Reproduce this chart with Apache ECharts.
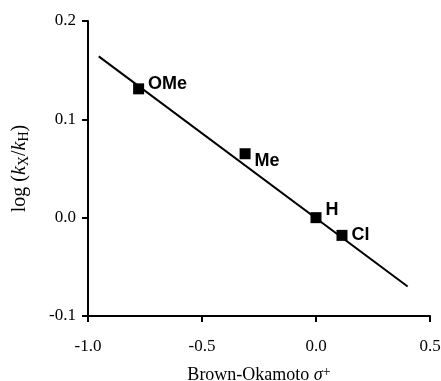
<!DOCTYPE html>
<html>
<head>
<meta charset="utf-8">
<script src="https://cdn.jsdelivr.net/npm/echarts@6/dist/echarts.min.js"></script>
<style>
  html, body { margin: 0; padding: 0; background: #fff; }
  #chart { width: 441px; height: 381px; }
</style>
</head>
<body>
<div id="chart"></div>
<script>
// 取代基与 σ+ / log(kX/kH) 数据
const substituents = ['OMe', 'Me', 'H', 'Cl'];
const sigmaPlus = [-0.778, -0.311, 0.0, 0.114];
const logRatio = [0.131, 0.065, 0.0, -0.018];
// 拟合直线的两端
const fitX = [-0.953, 0.402];
const fitY = [0.164, -0.070];
// 标签偏移（像素）
const labelOffsets = [[0, -5], [0, 7], [0, -8], [0, 0]];

const chart = echarts.init(document.getElementById('chart'));

const serif = '"Liberation Serif", "DejaVu Serif", serif';

chart.setOption({
    backgroundColor: '#fff',
    animation: false,
    grid: { left: 88, right: 11, top: 21, bottom: 65, containLabel: false, outerBoundsMode: 'none' },
    xAxis: {
        type: 'value',
        min: -1.0,
        max: 0.5,
        interval: 0.5,
        name: '{t|Brown-Okamoto }{i|σ}{sup|+}',
        nameLocation: 'middle',
        nameGap: 49,
        nameTextStyle: {
            rich: {
                t: { fontFamily: serif, fontSize: 18, color: '#000' },
                i: { fontFamily: serif, fontSize: 18, fontStyle: 'italic', color: '#000' },
                sup: { fontFamily: serif, fontSize: 14, color: '#000', verticalAlign: 'top', padding: [0, 0, 6, 0] }
            }
        },
        axisLine: { onZero: false, lineStyle: { color: '#000', width: 2 } },
        axisTick: { show: true, length: 6, lineStyle: { color: '#000', width: 2 } },
        axisLabel: {
            fontFamily: serif, fontSize: 17, color: '#000', margin: 22,
            formatter: v => v.toFixed(1)
        },
        splitLine: { show: false }
    },
    yAxis: {
        type: 'value',
        min: -0.1,
        max: 0.2,
        interval: 0.1,
        name: '{t|log (}{i|k}{s|X}{t|/}{i|k}{s|H}{t|)}',
        nameLocation: 'middle',
        nameGap: 57,
        nameRotate: 90,
        nameTextStyle: {
            rich: {
                t: { fontFamily: serif, fontSize: 20, color: '#000', lineHeight: 22 },
                i: { fontFamily: serif, fontSize: 20, fontStyle: 'italic', color: '#000', lineHeight: 22 },
                s: { fontFamily: serif, fontSize: 14, color: '#000', verticalAlign: 'bottom', lineHeight: 22, padding: [7, 0, 0, 0] }
            }
        },
        axisLine: { onZero: false, lineStyle: { color: '#000', width: 2 } },
        axisTick: { show: true, length: 6, lineStyle: { color: '#000', width: 2 } },
        axisLabel: {
            fontFamily: serif, fontSize: 17, color: '#000', margin: 12,
            formatter: v => v.toFixed(1)
        },
        splitLine: { show: false }
    },
    series: [
        {
            type: 'line',
            data: fitX.map((x, i) => [x, fitY[i]]),
            symbol: 'none',
            lineStyle: { color: '#000', width: 2 },
            z: 2
        },
        {
            type: 'scatter',
            data: sigmaPlus.map((x, i) => ({
                value: [x, logRatio[i]],
                name: substituents[i],
                label: { offset: labelOffsets[i] }
            })),
            symbol: 'rect',
            symbolSize: 11,
            itemStyle: { color: '#000', opacity: 1 },
            label: {
                show: true,
                position: 'right',
                distance: 4,
                formatter: '{b}',
                fontFamily: '"Liberation Sans", Arial, sans-serif',
                fontWeight: 'bold',
                fontSize: 18,
                color: '#000'
            },
            z: 3
        }
    ]
});
</script>
</body>
</html>
